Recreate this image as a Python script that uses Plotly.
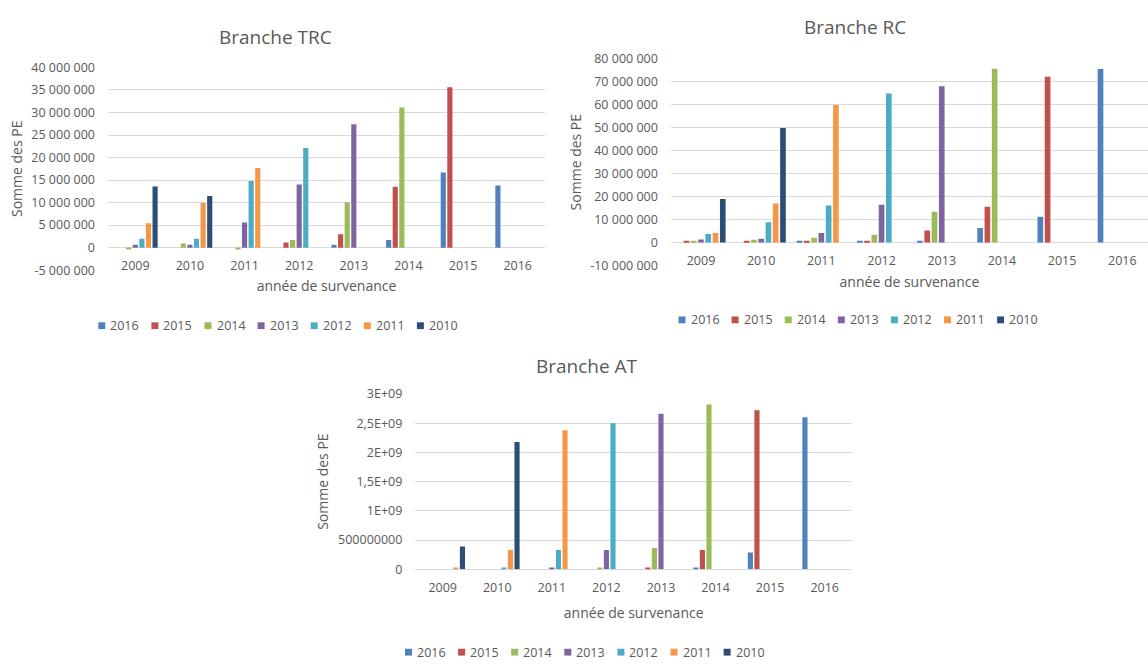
import plotly.graph_objects as go

W, H = 1148, 667

# Années de survenance (catégories) et années des séries
annees = ["2009", "2010", "2011", "2012", "2013", "2014", "2015", "2016"]
series = ["2016", "2015", "2014", "2013", "2012", "2011", "2010"]
couleurs = ["#4F81BD", "#C0504D", "#9BBB59", "#8064A2", "#4BACC6", "#F79646", "#2C4D75"]

# Branche TRC : somme des PE par année de survenance
trc_2016 = [None, None, None, None, 650000, 1700000, 16700000, 13800000]
trc_2015 = [None, None, None, 1150000, 3000000, 13500000, 35600000, None]
trc_2014 = [-360000, 940000, -300000, 1700000, 10100000, 31100000, None, None]
trc_2013 = [650000, 650000, 5600000, 14000000, 27400000, None, None, None]
trc_2012 = [1960000, 1960000, 14800000, 22100000, None, None, None, None]
trc_2011 = [5430000, 9930000, 17700000, None, None, None, None, None]
trc_2010 = [13600000, 11450000, None, None, None, None, None, None]

# Branche RC
rc_2016 = [None, None, 700000, 700000, 700000, 6300000, 11300000, 75500000]
rc_2015 = [700000, 700000, 700000, 700000, 5300000, 15600000, 72100000, None]
rc_2014 = [700000, 1200000, 2100000, 3400000, 13400000, 75600000, None, None]
rc_2013 = [1300000, 1700000, 4200000, 16500000, 68000000, None, None, None]
rc_2012 = [3700000, 8900000, 16100000, 64900000, None, None, None, None]
rc_2011 = [4200000, 17000000, 59900000, None, None, None, None, None]
rc_2010 = [19000000, 49800000, None, None, None, None, None, None]

# Branche AT
at_2016 = [None, None, None, None, None, 30000000, 290000000, 2600000000]
at_2015 = [None, None, None, None, 30000000, 330000000, 2720000000, None]
at_2014 = [None, None, None, 30000000, 365000000, 2820000000, None, None]
at_2013 = [None, None, 33000000, 330000000, 2660000000, None, None, None]
at_2012 = [None, 33000000, 330000000, 2500000000, None, None, None, None]
at_2011 = [33000000, 330000000, 2380000000, None, None, None, None, None]
at_2010 = [390000000, 2180000000, None, None, None, None, None, None]

trc_vals = [-5000000, 0, 5000000, 10000000, 15000000, 20000000, 25000000, 30000000, 35000000, 40000000]
trc_text = ["-5 000 000", "0", "5 000 000", "10 000 000", "15 000 000", "20 000 000",
            "25 000 000", "30 000 000", "35 000 000", "40 000 000"]
rc_vals = [-10000000, 0, 10000000, 20000000, 30000000, 40000000, 50000000, 60000000, 70000000, 80000000]
rc_text = ["-10 000 000", "0", "10 000 000", "20 000 000", "30 000 000", "40 000 000",
           "50 000 000", "60 000 000", "70 000 000", "80 000 000"]
at_vals = [0, 500000000, 1000000000, 1500000000, 2000000000, 2500000000, 3000000000]
at_text = ["0", "500000000", "1E+09", "1,5E+09", "2E+09", "2,5E+09", "3E+09"]

FONT = "Open Sans"
GREY = "#595959"
GRID = "#D9D9D9"


def fx(p):
    return p / W


def fy(p):
    return 1 - p / H


branches = [
    ("x", "y", [trc_2016, trc_2015, trc_2014, trc_2013, trc_2012, trc_2011, trc_2010]),
    ("x2", "y2", [rc_2016, rc_2015, rc_2014, rc_2013, rc_2012, rc_2011, rc_2010]),
    ("x3", "y3", [at_2016, at_2015, at_2014, at_2013, at_2012, at_2011, at_2010]),
]

fig = go.Figure()
for xa, ya, valeurs in branches:
    for nom, couleur, v in zip(series, couleurs, valeurs):
        fig.add_trace(go.Bar(
            x=annees, y=v, name=nom, xaxis=xa, yaxis=ya, showlegend=False,
            marker=dict(color=couleur, line=dict(width=0)),
        ))

tick_font = dict(family=FONT, size=12.5, color=GREY)
title_font = dict(family=FONT, size=14, color=GREY)


def x_axis(domain, pos, rng, standoff):
    return dict(
        domain=domain, anchor="free", position=pos, type="category",
        range=rng, showgrid=False, showline=False, zeroline=False, ticks="",
        tickfont=tick_font, ticklabelstandoff=9,
        title=dict(text="année de survenance", font=title_font, standoff=standoff),
    )


def y_axis(domain, anchor, rng, vals, text, standoff):
    return dict(
        domain=domain, anchor=anchor, range=rng, tickmode="array",
        tickvals=vals, ticktext=text, showgrid=True, gridcolor=GRID, gridwidth=1,
        zeroline=True, zerolinecolor=GRID, zerolinewidth=1, showline=False,
        ticks="", tickfont=tick_font, ticklabelstandoff=12,
        title=dict(text="Somme des PE", font=title_font, standoff=standoff),
    )


fig.update_layout(
    width=W, height=H, margin=dict(l=0, r=0, t=0, b=0),
    paper_bgcolor="white", plot_bgcolor="white",
    barmode="group", bargap=0.155, bargroupgap=0.22,
    font=dict(family=FONT, color=GREY),
    xaxis=x_axis([fx(108), fx(545)], fy(244.7), [-0.5, 7.5], 8),
    yaxis=y_axis([fy(268), fy(60)], "x", [-5000000, 40000000], trc_vals, trc_text, 5),
    xaxis2=x_axis([fx(670.9), 1.0], fy(240), [-0.5, 7.427], 8),
    yaxis2=y_axis([fy(263.3), fy(51)], "x2", [-10000000, 80000000], rc_vals, rc_text, 5),
    xaxis3=x_axis([fx(415.4), fx(852)], fy(575), [-0.5, 7.5], 13),
    yaxis3=y_axis([fy(575), fy(395)], "x3", [0, 3000000000], at_vals, at_text, 6),
)

# Légendes : carré de couleur suivi du libellé de la série, une rangée par branche
LEG_PITCH = 53.1
legendes = [(109.3, 325), (689.5, 319), (416, 660)]
for debut, cy in legendes:
    for i, (nom, couleur) in enumerate(zip(series, couleurs)):
        t = debut + i * LEG_PITCH
        fig.add_shape(
            type="rect", xref="paper", yref="paper",
            x0=fx(t - 11), x1=fx(t - 4), y0=fy(cy + 3.5), y1=fy(cy - 3.5),
            fillcolor=couleur, line=dict(width=0),
        )
        fig.add_annotation(
            text=nom, x=fx(t - 1), y=fy(cy), xref="paper", yref="paper",
            xanchor="left", yanchor="middle", showarrow=False,
            font=dict(family=FONT, size=12.5, color=GREY),
        )

titres = [("Branche TRC", 275, 28.3), ("Branche RC", 855, 18), ("Branche AT", 587, 366)]
for texte, cx, cy in titres:
    fig.add_annotation(
        text=texte, x=fx(cx), y=fy(cy), xref="paper", yref="paper",
        xanchor="center", yanchor="middle", showarrow=False,
        font=dict(family=FONT, size=19, color=GREY),
    )

# La page ne garde aucune marge autour du graphique
fig.write_html(
    "out.html",
    post_script="document.body.style.margin='0';document.body.style.overflow='hidden';",
)
